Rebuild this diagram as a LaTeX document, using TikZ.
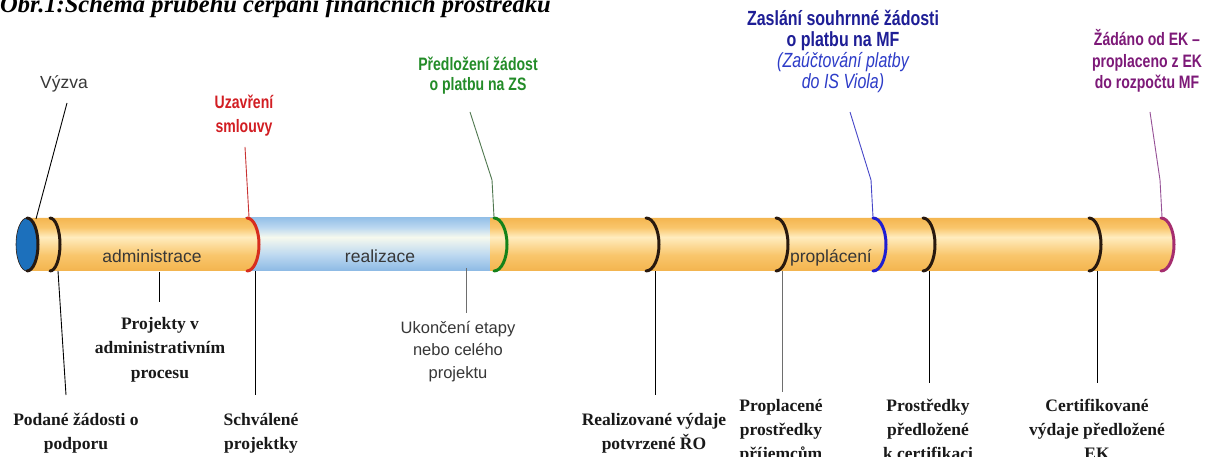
\documentclass[tikz,border=0pt]{standalone}
\usepackage{fontspec}
\setmainfont{Liberation Serif}
\setsansfont{Liberation Sans}
\newfontfamily\narrowsans[FakeStretch=0.78]{Liberation Sans}
\definecolor{oT}{RGB}{244,182,80}
\definecolor{oB}{RGB}{243,180,78}
\definecolor{oM}{RGB}{249,198,108}
\definecolor{oL}{RGB}{255,236,190}
\definecolor{bT}{RGB}{150,193,232}
\definecolor{bB}{RGB}{140,185,228}
\definecolor{bM}{RGB}{188,216,240}
\definecolor{bL}{RGB}{246,249,238}
\definecolor{capblue}{RGB}{28,112,188}
\definecolor{ringblack}{RGB}{40,25,15}
\definecolor{ringred}{RGB}{215,45,30}
\definecolor{ringgreen}{RGB}{20,130,25}
\definecolor{ringblue}{RGB}{30,30,210}
\definecolor{ringpurple}{RGB}{165,45,110}
\definecolor{txtred}{RGB}{210,30,35}
\definecolor{txtgreen}{RGB}{35,140,40}
\definecolor{txtblue}{RGB}{30,30,150}
\definecolor{txtblueit}{RGB}{45,60,200}
\definecolor{txtpurple}{RGB}{125,25,120}
\definecolor{txtdark}{RGB}{25,25,25}
\definecolor{txtgray}{RGB}{55,55,55}
\definecolor{lgreen}{RGB}{80,120,80}
\definecolor{lblue}{RGB}{70,70,200}
\definecolor{lpurple}{RGB}{150,80,150}
\definecolor{lred}{RGB}{200,50,50}
\definecolor{lgray}{RGB}{110,110,110}
\pgfdeclareverticalshading{tubeorange}{100bp}{color(0bp)=(oB); color(25bp)=(oB); color(40bp)=(oM); color(57bp)=(oL); color(66bp)=(oM); color(75bp)=(oT); color(100bp)=(oT)}
\pgfdeclareverticalshading{tubeblue}{100bp}{color(0bp)=(bB); color(25bp)=(bB); color(40bp)=(bM); color(57bp)=(bL); color(66bp)=(bM); color(75bp)=(bT); color(100bp)=(bT)}
\begin{document}
\begin{tikzpicture}[x=1pt,y=-1pt,
  conn/.style={line width=0.9pt},
  ringarc/.style={line width=3pt,line cap=round},
  botlbl/.style={font=\fontsize{17.5}{24}\selectfont\bfseries,text=txtdark,align=center,anchor=base,inner sep=0pt},
  tubelbl/.style={font=\sffamily\fontsize{17.5}{21}\selectfont,text=txtgray,anchor=base,inner sep=0pt},
  sanslbl/.style={font=\sffamily\fontsize{16.5}{22.5}\selectfont,text=txtgray,align=center,anchor=base,inner sep=0pt},
  toplbl/.style={font=\narrowsans\bfseries\fontsize{18}{20}\selectfont,align=center,anchor=base,inner sep=0pt}]
\useasboundingbox (0,0) rectangle (1208,457);
\clip (0,0) rectangle (1208,457);
\fill[white] (0,0) rectangle (1208,457);
% title (cut at top)
\node[anchor=base west,inner sep=0pt,font=\fontsize{24.5}{28}\selectfont\bfseries\itshape,text=black] (title) at (0,13) {Obr.1:Schéma průběhu čerpání finančních prostředků};
% tube
\shade[shading=tubeblue] (245,218) rectangle (494,271);
\shade[shading=tubeorange] (490,218) -- (1161,218) arc[start angle=-90,end angle=90,x radius=13,y radius=26.5] -- (490,271) -- cycle;
\shade[shading=tubeorange] (27,218) -- (247,218) arc[start angle=-90,end angle=90,x radius=12,y radius=26.5] -- (27,271) -- cycle;
\fill[capblue,draw=ringblack,line width=0.6pt] (27,244.5) ellipse[x radius=11,y radius=26.5];
\foreach \x/\r/\c in {27/11/ringblack,50/10/ringblack,247/12/ringred,494/13/ringgreen,646/13/ringblack,776/12/ringblack,873/13/ringblue,923/12/ringblack,1089/12/ringblack,1161/13/ringpurple}
  \draw[ringarc,draw=\c] (\x,218) arc[start angle=-90,end angle=90,x radius=\r,y radius=26.5];
% tube labels
\node[tubelbl] (adm) at (152,263) {administrace};
\node[tubelbl] (real) at (380,263) {realizace};
\node[tubelbl] (prop) at (831,263) {proplácení};
% ring attach points
\coordinate (rV) at (36,219);
\coordinate (rR) at (249,217);
\coordinate (rG) at (494,217);
\coordinate (rB) at (873,217);
\coordinate (rP) at (1162,217);
\coordinate (kG) at (492,180);
\coordinate (kB) at (871,180);
\coordinate (kP) at (1160,180);
\coordinate (b1) at (58,271);
\coordinate (b2) at (159,272);
\coordinate (b3) at (255,271);
\coordinate (b4) at (466,268);
\coordinate (b5) at (655,271);
\coordinate (b6) at (782,271);
\coordinate (b7) at (929,271);
\coordinate (b8) at (1097,271);
% top labels (base anchor = last line baseline)
\node[anchor=base,inner sep=0pt,font=\sffamily\fontsize{17.5}{21}\selectfont,text=txtgray] (vyzva) at (64,89) {Výzva};
\node[toplbl,text=txtred,font=\narrowsans\bfseries\fontsize{18}{24}\selectfont] (uzav) at (244,133) {Uzavření\\smlouvy};
\node[toplbl,text=txtgreen] (predl) at (478,91) {Předložení žádost\\o platbu na ZS};
\node[toplbl,text=txtblue,font=\narrowsans\bfseries\fontsize{20.5}{21}\selectfont] (zasl) at (843,89) {Zaslání souhrnné žádosti\\o platbu na MF\\{\mdseries\itshape\color{txtblueit}(Zaúčtování platby}\\{\mdseries\itshape\color{txtblueit}do IS Viola)}};
\node[toplbl,text=txtpurple,font=\narrowsans\bfseries\fontsize{18}{21.5}\selectfont] (zad) at (1147,89) {Žádáno od EK –\\proplaceno z EK\\do rozpočtu MF};
% top connectors
\draw[conn,black] (67,103) -- (rV);
\draw[conn,lred] (245,147) -- (rR);
\draw[conn,lgreen] (470,112) -- (kG) -- (rG);
\draw[conn,lblue] (850,112) -- (kB) -- (rB);
\draw[conn,lpurple] (1150,112) -- (kP) -- (rP);
% bottom labels (base anchor = last line baseline)
\node[botlbl] (podane) at (76,449) {Podané žádosti o\\podporu};
\node[botlbl,font=\fontsize{17.5}{24.5}\selectfont\bfseries] (projekty) at (160,378) {Projekty v\\administrativním\\procesu};
\node[botlbl] (schval) at (261,449) {Schválené\\projektky};
\node[sanslbl] (ukonc) at (458,378) {Ukončení etapy\\nebo celého\\projektu};
\node[botlbl] (realiz) at (654,449) {Realizované výdaje\\potvrzené ŘO};
\node[botlbl] (propl) at (781,459) {Proplacené\\prostředky\\příjemcům};
\node[botlbl] (prostr) at (928,459) {Prostředky\\předložené\\k certifikaci};
\node[botlbl] (certif) at (1097,459) {Certifikované\\výdaje předložené\\EK};
% bottom connectors
\draw[conn,black] (b1) -- (66,395);
\draw[conn,black] (b2) -- (159,302);
\draw[conn,black] (b3) -- (255,395);
\draw[conn,lgray] (b4) -- (466,313);
\draw[conn,black] (b5) -- (655,395);
\draw[conn,lgray] (b6) -- (782,392);
\draw[conn,black] (b7) -- (929,383);
\draw[conn,black] (b8) -- (1097,383);
\end{tikzpicture}
\end{document}
